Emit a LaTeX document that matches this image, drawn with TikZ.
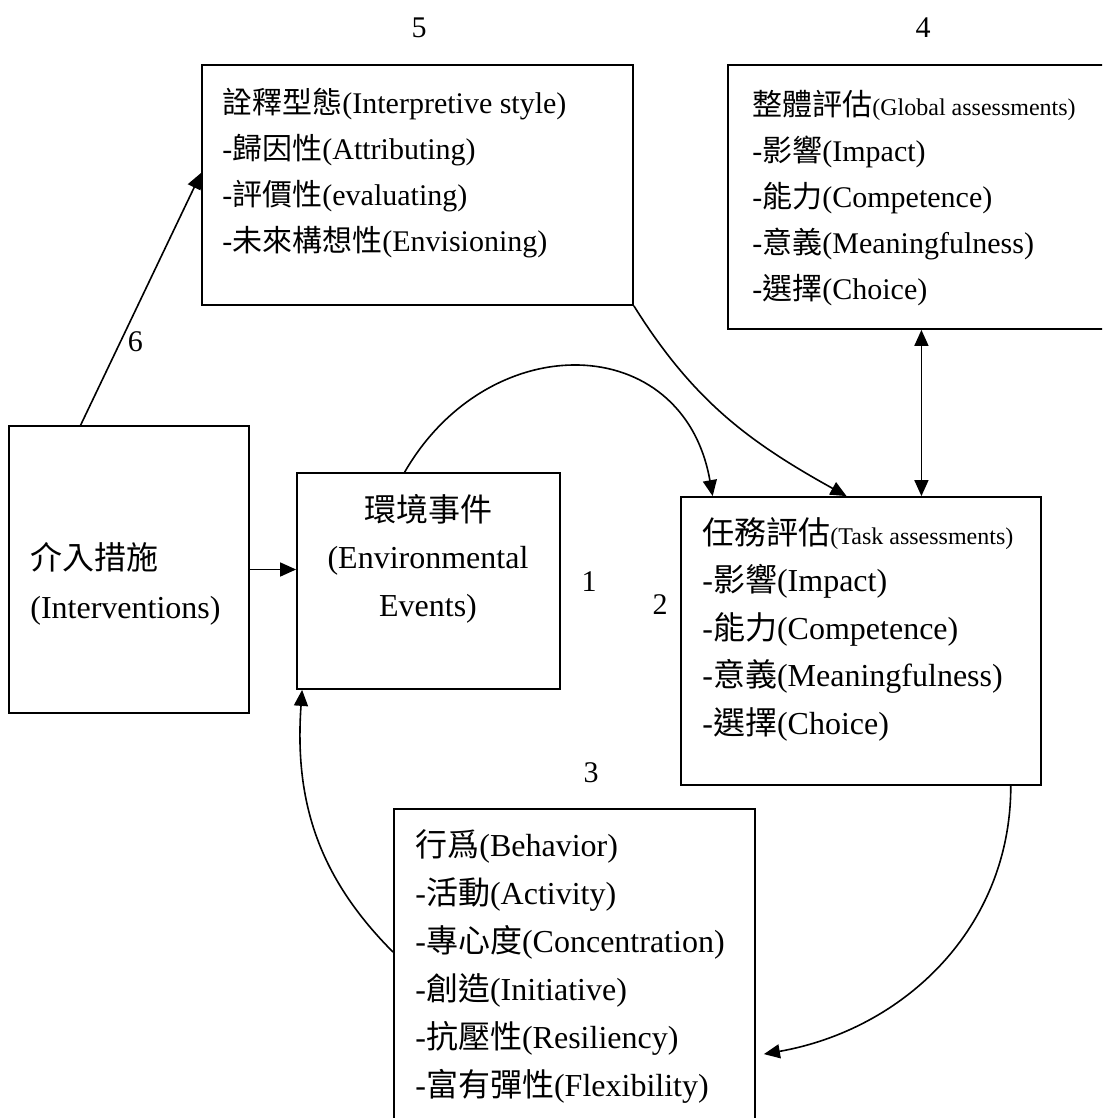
\documentclass[tikz,border=0pt]{standalone}
\usepackage{fontspec}
\setmainfont{Liberation Serif}
\newfontfamily\zhfont{Noto Sans CJK TC}
\newcommand{\zh}[1]{{\zhfont #1}}
\newcommand{\smallpar}[1]{{\fontsize{12}{12}\selectfont #1}}
\usetikzlibrary{arrows.meta,calc}

\begin{document}
\begin{tikzpicture}[x=0.5pt,y=-0.5pt,
  box/.style={draw,line width=0.9pt,inner sep=0pt},
  boxtext/.style={inner sep=0pt,anchor=north west,align=left},
  bigtext/.style={font=\fontsize{15}{23}\selectfont},
  midtext/.style={font=\fontsize{16}{24}\selectfont},
  num/.style={font=\fontsize{15}{15}\selectfont},
  link/.style={line width=0.8pt,-{Triangle[length=8pt,width=7pt]}},
  dlink/.style={line width=0.8pt,{Triangle[length=8pt,width=7pt]}-{Triangle[length=8pt,width=7pt]}}]

  \useasboundingbox (0,0) rectangle (1102,1118);
  \clip (0,0) rectangle (1102,1118);

  \node[box,minimum width=215.5pt,minimum height=120pt] (interp) at (417.5,185) {};
  \node[box,minimum width=191pt,minimum height=132pt] (global) at (919,197) {};
  \node[box,minimum width=120pt,minimum height=143.5pt] (interv) at (129,569.5) {};
  \node[box,minimum width=131.5pt,minimum height=108pt] (env) at (428.5,581) {};
  \node[box,minimum width=180pt,minimum height=144pt] (task) at (861,641) {};
  \node[box,minimum width=180.5pt,minimum height=160.5pt] (behav) at (574.5,969.5) {};

  \node[boxtext,bigtext] (interptxt) at (222,88)
    {\zh{詮釋型態}(Interpretive style)\\-\zh{歸因性}(Attributing)\\-\zh{評價性}(evaluating)\\-\zh{未來構想性}(Envisioning)};
  \node[boxtext,bigtext] (globaltxt) at (752,90)
    {\zh{整體評估}\smallpar{(Global assessments)}\\-\zh{影響}(Impact)\\-\zh{能力}(Competence)\\-\zh{意義}(Meaningfulness)\\-\zh{選擇}(Choice)};
  \node[boxtext,midtext,font=\fontsize{16}{24.5}\selectfont] (intervtxt) at (30,542)
    {\zh{介入措施}\\(Interventions)};
  \node[inner sep=0pt,anchor=north,align=center,midtext,font=\fontsize{16}{23.75}\selectfont] (envtxt) at (428,494)
    {\zh{環境事件}\\(Environmental\\Events)};
  \node[boxtext,font=\fontsize{16}{23.75}\selectfont] (tasktxt) at (702,517)
    {\zh{任務評估}\smallpar{(Task assessments)}\\-\zh{影響}(Impact)\\-\zh{能力}(Competence)\\-\zh{意義}(Meaningfulness)\\-\zh{選擇}(Choice)};
  \node[boxtext,midtext] (behavtxt) at (415,829)
    {\zh{行爲}(Behavior)\\-\zh{活動}(Activity)\\-\zh{專心度}(Concentration)\\-\zh{創造}(Initiative)\\-\zh{抗壓性}(Resiliency)\\-\zh{富有彈性}(Flexibility)};

  \node[num] (n5) at (419,28) {5};
  \node[num] (n4) at (923,28) {4};
  \node[num] (n1) at (589,582) {1};
  \node[num] (n2) at (660,605) {2};
  \node[num] (n3) at (591,773) {3};

  \coordinate (gt) at ($(task.north west)!0.667!(task.north east)$);

  \draw[link] ($(interv.north west)!0.3!(interv.north east)$) -- node[pos=0.33,right,num] (n6) {6} ($(interp.north west)!0.45!(interp.south west)$);
  \draw[link] (interv.east) -- (interv.east -| env.west);
  \draw[link] ($(env.north west)!0.41!(env.north east)$) to[out=60,in=100,looseness=1.4] ($(task.north west)!0.09!(task.north east)$);
  \draw[link] (interp.south east) to[out=-58,in=151] ($(task.north west)!0.46!(task.north east)$);
  \draw[dlink] (gt) -- (gt |- global.south);
  \draw[link] ($(task.south west)!0.914!(task.south east)$) to[out=-90,in=10] ($(behav.north east)+(8,246)$);
  \draw[link] ($(behav.north west)+(0,144)$) to[out=135,in=-94] ($(env.south west)+(6,0)$);
\end{tikzpicture}
\end{document}
